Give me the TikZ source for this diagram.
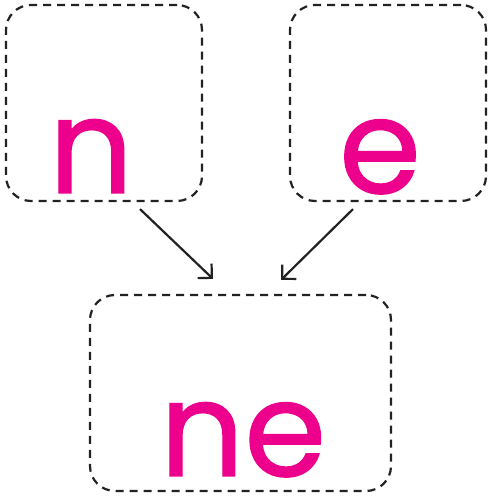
\documentclass[tikz,border=0pt]{standalone}
\usepackage{fontspec}
\setmainfont{Poppins}[FakeBold=1.0]
\usetikzlibrary{arrows.meta}
\definecolor{mag}{HTML}{EC008C}
\definecolor{ink}{HTML}{222222}
\tikzset{
  box/.style={draw=ink, line width=2.2pt, dash pattern=on 8pt off 6pt, rounded corners=25pt, minimum height=196pt, inner sep=0pt},
  letters/.style={text=mag, font=\fontsize{132}{132}\selectfont, anchor=base, inner sep=0pt},
  conn/.style={draw=ink, line width=2.2pt, -{Straight Barb[length=10pt,width=20pt,line width=2.2pt]}}
}
\begin{document}
\begin{tikzpicture}[x=1pt,y=1pt]
\useasboundingbox (0,0) rectangle (488,497);
\node[box, minimum width=196pt] (tl) at (104,394) {};
\node[box, minimum width=196pt] (tr) at (388,394) {};
\node[box, minimum width=301pt] (b) at (240.5,104) {};
\node[letters] (tn) at (91,304) {n};
\node[letters] (te) at (380,304) {e};
\node[letters] (tb) at (243,21) {ne};
\draw[conn] ([xshift=36pt,yshift=-7pt]tl.south) -- ([xshift=-27.5pt,yshift=15pt]b.north);
\draw[conn] ([xshift=-35pt,yshift=-7pt]tr.south) -- ([xshift=40.5pt,yshift=14pt]b.north);
\end{tikzpicture}
\end{document}
